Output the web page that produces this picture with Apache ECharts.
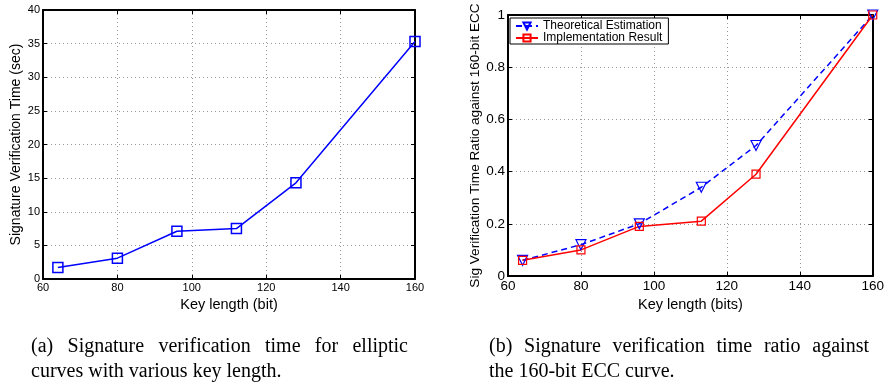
<!DOCTYPE html>
<html>
<head>
<meta charset="utf-8">
<script src="https://cdn.jsdelivr.net/npm/echarts@6/dist/echarts.min.js"></script>
<style>
  html, body { margin: 0; padding: 0; background: #fff; }
  #chart { width: 887px; height: 385px; }
</style>
</head>
<body>
<div id="chart"></div>
<script>
// (a) verification time
const keyLengths = [64, 80, 96, 112, 128, 160];
const verifyTime = [1.7, 3.1, 7.1, 7.5, 14.3, 35.3];
// (b) ratio against 160-bit
const ratioKeyLengths = [64, 80, 96, 113, 128, 160];
const theoretical = [0.06, 0.12, 0.2, 0.34, 0.5, 1.0];
const implementation = [0.06, 0.1, 0.19, 0.21, 0.39, 1.0];

const captionA = ['(a) Signature verification time for elliptic', 'curves with various key length.'];
const captionB = ['(b) Signature verification time ratio against', 'the 160-bit ECC curve.'];

const SANS = 'Liberation Sans';
const SERIF = 'Liberation Serif';
const frame = { show: true, onZero: false, lineStyle: { color: '#000', width: 2 } };
const tick = { show: true, inside: true, length: 4, lineStyle: { color: '#000', width: 1 } };
const dotted = { show: true, lineStyle: { color: '#999', type: [1, 3], width: 1 } };

function pairs(xs, ys) {
    return xs.map((x, i) => [x, ys[i]]);
}

// spread the words of a line to fill the width, like a justified caption
const measure = document.createElement('canvas').getContext('2d');
function captionLine(text, x, y, width, justify) {
    const font = '20px "' + SERIF + '"';
    if (!justify) {
        return [{ type: 'text', x: x, y: y, style: { text: text, font: font, fill: '#000', verticalAlign: 'middle' } }];
    }
    measure.font = font;
    const words = text.split(' ');
    const widths = words.map(w => measure.measureText(w).width);
    const gap = (width - widths.reduce((a, b) => a + b, 0)) / (words.length - 1);
    let cx = x;
    return words.map((w, i) => {
        const el = { type: 'text', x: cx, y: y, style: { text: w, font: font, fill: '#000', verticalAlign: 'middle' } };
        cx += widths[i] + gap;
        return el;
    });
}

const chart = echarts.init(document.getElementById('chart'), null, { renderer: 'canvas' });

function xPair(grid, name, fontSize, gap) {
    return [{
        gridIndex: grid, type: 'value', min: 60, max: 160, interval: 20,
        name: name, nameLocation: 'middle', nameGap: gap,
        nameTextStyle: { fontFamily: SANS, fontSize: 14.5, color: '#000' },
        axisLine: frame, axisTick: tick, splitLine: dotted,
        axisLabel: { fontFamily: SANS, fontSize: fontSize, color: '#000', margin: 3 }
    }, {
        gridIndex: grid, type: 'value', position: 'top', min: 60, max: 160, interval: 20,
        axisLine: frame, axisTick: tick, splitLine: { show: false }, axisLabel: { show: false }
    }];
}

function yPair(grid, name, max, interval, fontSize, gap, nameSize) {
    return [{
        gridIndex: grid, type: 'value', min: 0, max: max, interval: interval,
        name: name, nameLocation: 'middle', nameGap: gap,
        nameTextStyle: { fontFamily: SANS, fontSize: nameSize, color: '#000' },
        axisLine: frame, axisTick: tick, splitLine: dotted,
        axisLabel: { fontFamily: SANS, fontSize: fontSize, color: '#000', margin: 3 }
    }, {
        gridIndex: grid, type: 'value', position: 'right', min: 0, max: max, interval: interval,
        axisLine: frame, axisTick: tick, splitLine: { show: false }, axisLabel: { show: false }
    }];
}

const graphics = []
    .concat(captionLine(captionA[0], 31, 347, 377, true))
    .concat(captionLine(captionA[1], 31, 372, 0, false))
    .concat(captionLine(captionB[0], 489, 347, 380, true))
    .concat(captionLine(captionB[1], 489, 372, 0, false));

chart.setOption({
    animation: false,
    backgroundColor: '#fff',
    grid: [
        { left: 43, top: 10, width: 372, height: 269 },
        { left: 508, top: 15, width: 366, height: 261 }
    ],
    xAxis: xPair(0, 'Key length (bit)', 11, 12).concat(xPair(1, 'Key length (bits)', 13.5, 13)),
    yAxis: yPair(0, 'Signature Verification Time (sec)', 40, 5, 11, 20, 14)
        .concat(yPair(1, 'Sig Verification Time Ratio against 160-bit ECC', 1, 0.2, 13.5, 25, 13.6)),
    legend: {
        data: ['Theoretical Estimation', 'Implementation Result'],
        orient: 'vertical', left: 510, top: 18,
        itemWidth: 22, itemHeight: 9, itemGap: 0,
        padding: [2, 6, 0, 5],
        borderColor: '#000', borderWidth: 1, backgroundColor: '#fff',
        textStyle: { fontFamily: SANS, fontSize: 12, color: '#000', lineHeight: 12 }
    },
    graphic: graphics,
    series: [{
        name: 'Verification Time', type: 'line',
        xAxisIndex: 0, yAxisIndex: 0,
        data: pairs(keyLengths, verifyTime),
        symbol: 'rect', symbolSize: 10,
        lineStyle: { color: '#0000ff', width: 1.5 },
        itemStyle: { color: 'rgba(0,0,0,0)', borderColor: '#0000ff', borderWidth: 1.5 }
    }, {
        name: 'Theoretical Estimation', type: 'line',
        xAxisIndex: 2, yAxisIndex: 2,
        data: pairs(ratioKeyLengths, theoretical),
        symbol: 'triangle', symbolRotate: 180, symbolSize: 10,
        lineStyle: { color: '#0000ff', width: 1.5, type: [6, 4] },
        itemStyle: { color: 'rgba(0,0,0,0)', borderColor: '#0000ff', borderWidth: 1.2 }
    }, {
        name: 'Implementation Result', type: 'line',
        xAxisIndex: 2, yAxisIndex: 2,
        data: pairs(ratioKeyLengths, implementation),
        symbol: 'rect', symbolSize: 8,
        lineStyle: { color: '#ff0000', width: 1.5 },
        itemStyle: { color: 'rgba(0,0,0,0)', borderColor: '#ff0000', borderWidth: 1.2 }
    }]
});
</script>
</body>
</html>
